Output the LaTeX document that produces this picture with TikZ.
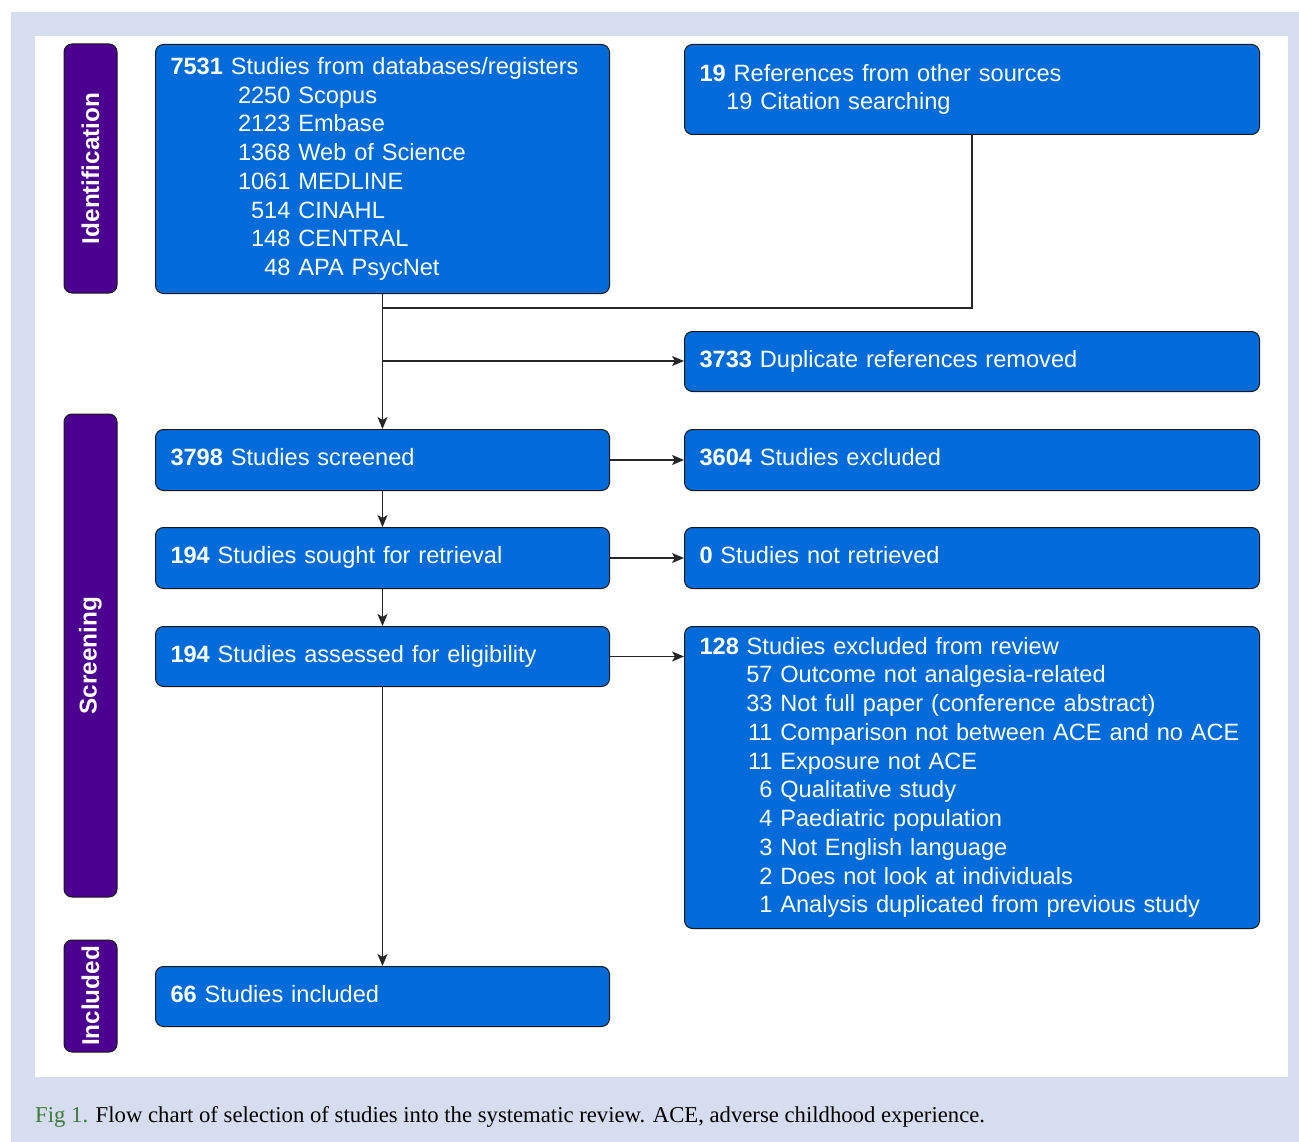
\documentclass[tikz,border=0pt]{standalone}
\usepackage{fontspec}
\setmainfont{Liberation Sans}
\newfontfamily\capfont{Liberation Serif}
\usetikzlibrary{arrows.meta,calc}
\definecolor{bgblue}{RGB}{213,221,239}
\definecolor{boxblue}{RGB}{0,107,217}
\definecolor{labpurple}{RGB}{75,0,144}
\definecolor{capgreen}{RGB}{60,122,60}
\newcommand\nm[2]{\makebox[#1pt][r]{#2}}
\begin{document}
\begin{tikzpicture}[x=1pt,y=-1pt,
  box/.style={draw=black!90, line width=1pt, fill=boxblue, rounded corners=8pt,
    text=white, anchor=north west, inner xsep=15pt, inner ysep=0pt, align=left,
    font=\fontsize{23.6}{28.75}\selectfont},
  one/.style={text height=16pt, text depth=4.2pt},
  lab/.style={draw=black!90, line width=1pt, fill=labpurple, rounded corners=8pt,
    text=white, rotate=90, anchor=center, inner sep=0pt, minimum height=53pt,
    font=\bfseries\fontsize{24.3}{28}\selectfont},
  conn/.style={draw=black!85, line width=1.3pt},
  arr/.style={conn, -{Stealth[length=12pt,width=10pt,inset=3pt]}}]
\useasboundingbox (0,0) rectangle (1299,1142);
\fill[white] (0,0) rectangle (1299,1142);
\fill[bgblue] (11,12) rectangle (1299,1142);
\fill[white] (35,36) rectangle (1288,1077);

% phase labels
\node[lab, minimum width=249pt] (idl) at (90.5,168.5) {Identification};
\node[lab, minimum width=483pt] (scl) at (90.5,655.5) {Screening};
\node[lab, minimum width=112pt] (inl) at (90.5,996) {Included};

% boxes
\node[box, text width=424pt, minimum height=249pt] (A) at (155,44) {%
\textbf{7531} Studies from databases/registers\\
\nm{120}{2250} Scopus\\
\nm{120}{2123} Embase\\
\nm{120}{1368} Web of Science\\
\nm{120}{1061} MEDLINE\\
\nm{120}{514} CINAHL\\
\nm{120}{148} CENTRAL\\
\nm{120}{48} APA PsycNet};
\node[box, text width=545pt, minimum height=90pt] (B) at (684,44) {%
\textbf{19} References from other sources\\
\nm{53}{19} Citation searching};
\node[box, one, text width=545pt, minimum height=60pt] (dup) at (684,331) {\textbf{3733} Duplicate references removed};
\node[box, one, text width=424pt, minimum height=61pt] (scr) at (155,429) {\textbf{3798} Studies screened};
\node[box, one, text width=545pt, minimum height=61pt] (exc) at (684,429) {\textbf{3604} Studies excluded};
\node[box, one, text width=424pt, minimum height=61pt] (sgt) at (155,527) {\textbf{194} Studies sought for retrieval};
\node[box, one, text width=545pt, minimum height=61pt] (nrt) at (684,527) {\textbf{0} Studies not retrieved};
\node[box, one, text width=424pt, minimum height=60pt] (ass) at (155,626) {\textbf{194} Studies assessed for eligibility};
\node[box, text width=545pt, minimum height=302pt] (exr) at (684,626) {%
\textbf{128} Studies excluded from review\\
\nm{73}{57} Outcome not analgesia-related\\
\nm{73}{33} Not full paper (conference abstract)\\
\nm{73}{11} Comparison not between ACE and no ACE\\
\nm{73}{11} Exposure not ACE\\
\nm{73}{6} Qualitative study\\
\nm{73}{4} Paediatric population\\
\nm{73}{3} Not English language\\
\nm{73}{2} Does not look at individuals\\
\nm{73}{1} Analysis duplicated from previous study};
\node[box, one, text width=424pt, minimum height=60pt] (inc) at (155,966) {\textbf{66} Studies included};

% connectors
\coordinate (j) at (382,308);
\coordinate (k) at (382,361);
\draw[arr] (A.south) -- (scr.north);
\draw[conn] (B.south) |- (j);
\draw[arr] (k) -- (k -| dup.west);
\draw[arr] (scr.east) -- (exc.west);
\draw[arr] (scr.south) -- (sgt.north);
\draw[arr] (sgt.east) -- (nrt.west);
\draw[arr] (sgt.south) -- (ass.north);
\draw[arr] (ass.east) -- (ass.east -| exr.west);
\draw[arr] (ass.south) -- (inc.north);

% caption
\node[anchor=base west, inner sep=0pt, font=\capfont\fontsize{22.7}{26}\selectfont] (cap) at (35,1122)
  {\textcolor{capgreen}{Fig 1.} Flow chart of selection of studies into the systematic review. ACE, adverse childhood experience.};
\end{tikzpicture}
\end{document}
